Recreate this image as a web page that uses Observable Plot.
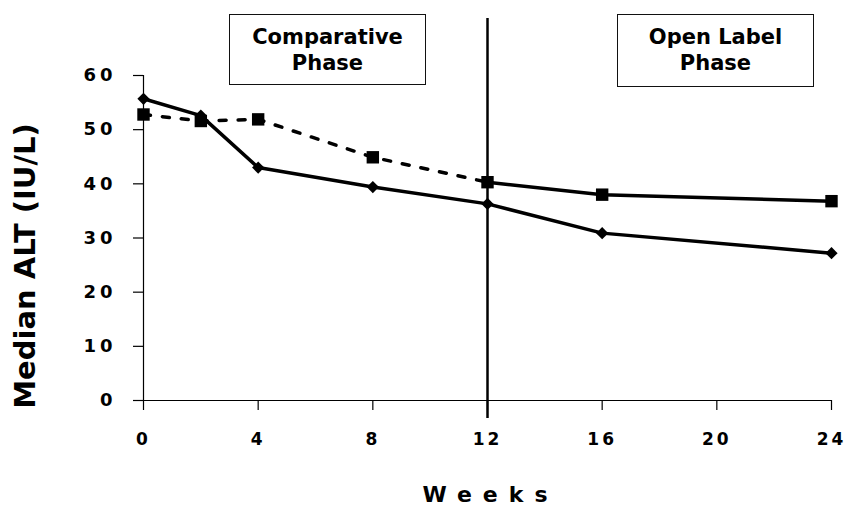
<!DOCTYPE html>
<html>
<head>
<meta charset="utf-8">
<script src="https://cdn.jsdelivr.net/npm/d3@7"></script>
<script src="https://cdn.jsdelivr.net/npm/@observablehq/plot@0.6"></script>
<style>
  body { margin: 0; background: #fff; }
  #wrap { position: relative; width: 847px; height: 510px; font-family: "DejaVu Sans", sans-serif; }
  .box { position: absolute; box-sizing: border-box; border: 1.5px solid #111; background: #fff;
         text-align: center; font-weight: bold; font-size: 21px; line-height: 26px; padding-top: 9px; color: #000; }
  g[aria-label="x-axis tick label"] text { letter-spacing: 3px; }
  g[aria-label="y-axis tick label"] text { letter-spacing: 4px; }
</style>
</head>
<body>
<div id="wrap"></div>
<script>
const weeks = [0, 2, 4, 8, 12, 16, 24];
const seriesDiamond = [55.7, 52.6, 43.0, 39.4, 36.3, 30.9, 27.2];
const seriesSquare = [52.8, 51.6, 51.9, 44.9, 40.3, 38.0, 36.8];
const xTicks = [0, 4, 8, 12, 16, 20, 24];
const yTicks = [0, 10, 20, 30, 40, 50, 60];
const phaseBreak = 12;
const phaseLabels = ["Comparative\nPhase", "Open Label\nPhase"];
const xLabel = "Weeks";
const yLabel = "Median ALT (IU/L)";

const dia = weeks.map((w, i) => ({week: w, value: seriesDiamond[i]}));
const sq = weeks.map((w, i) => ({week: w, value: seriesSquare[i]}));
const sqDashed = sq.filter(d => d.week <= phaseBreak);
const sqSolid = sq.filter(d => d.week >= phaseBreak);

const chart = Plot.plot({
  width: 847,
  height: 510,
  marginLeft: 143,
  marginRight: 16,
  marginTop: 75,
  marginBottom: 110,
  style: {fontFamily: "DejaVu Sans, sans-serif", color: "#000", background: "#fff"},
  x: {domain: [0, 24]},
  y: {domain: [0, 60]},
  marks: [
    Plot.ruleY([0], {x1: 0, x2: 24, stroke: "#000", strokeWidth: 1.2}),
    Plot.ruleX([0], {y1: 0, y2: 60, stroke: "#000", strokeWidth: 1.2}),
    Plot.axisX({ticks: xTicks, tickSize: 10, tickPadding: 22, fontSize: 17, fontWeight: "bold", label: null, tickFormat: d => String(d), strokeWidth: 1.2}),
    Plot.axisY({ticks: yTicks, tickSize: 10, tickPadding: 17, fontSize: 18, fontWeight: "bold", label: null, tickFormat: d => String(d), strokeWidth: 1.2}),
    Plot.ruleX([phaseBreak], {insetTop: -57, insetBottom: -18, stroke: "#000", strokeWidth: 2.5}),
    Plot.line(dia, {x: "week", y: "value", stroke: "#000", strokeWidth: 3.5}),
    Plot.line(sqDashed, {x: "week", y: "value", stroke: "#000", strokeWidth: 3.5, strokeDasharray: "7,12"}),
    Plot.line(sqSolid, {x: "week", y: "value", stroke: "#000", strokeWidth: 3.5}),
    Plot.dot(dia, {x: "week", y: "value", symbol: "diamond2", r: 5.5, fill: "#000", stroke: "none"}),
    Plot.dot(sq, {x: "week", y: "value", symbol: "square", r: 7, fill: "#000", stroke: "none"}),
    Plot.text([yLabel], {frameAnchor: "left", dx: -118, dy: 28, rotate: -90, fontSize: 29, fontWeight: "bold", lineAnchor: "middle", textAnchor: "middle", fill: "#000"}),
    Plot.text([xLabel], {frameAnchor: "bottom", dx: 3, dy: 94, fontSize: 22, fontWeight: "bold", lineAnchor: "middle", textAnchor: "middle", fill: "#000"})
  ]
});

d3.select(chart).selectAll("text")
  .filter(function() { return this.textContent === xLabel; })
  .style("letter-spacing", "11px");

const wrap = document.getElementById("wrap");
wrap.appendChild(chart);

const boxes = [
  {left: 229, top: 14, width: 197, height: 71, text: phaseLabels[0]},
  {left: 617, top: 14, width: 197, height: 73, text: phaseLabels[1]}
];
boxes.forEach(b => {
  const div = document.createElement("div");
  div.className = "box";
  Object.assign(div.style, {left: b.left + "px", top: b.top + "px", width: b.width + "px", height: b.height + "px"});
  b.text.split("\n").forEach((t, i) => {
    if (i) div.appendChild(document.createElement("br"));
    div.appendChild(document.createTextNode(t));
  });
  wrap.appendChild(div);
});
</script>
</body>
</html>
